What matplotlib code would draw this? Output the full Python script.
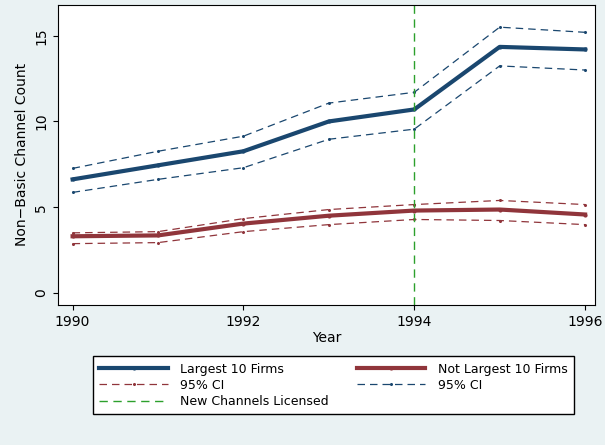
import matplotlib.pyplot as plt
import numpy as np

YEARS = np.array([1990, 1991, 1992, 1993, 1994, 1995, 1996])
LARGEST = np.array([6.62, 7.44, 8.26, 10.0, 10.7, 14.35, 14.2])
LARGEST_HI = np.array([7.26, 8.26, 9.14, 11.07, 11.7, 15.5, 15.2])
LARGEST_LO = np.array([5.86, 6.62, 7.3, 8.96, 9.55, 13.24, 13.0])
OTHER = np.array([3.3, 3.35, 4.04, 4.5, 4.8, 4.86, 4.57])
OTHER_HI = np.array([3.5, 3.57, 4.33, 4.86, 5.15, 5.39, 5.15])
OTHER_LO = np.array([2.87, 2.93, 3.57, 3.98, 4.28, 4.22, 3.98])
LICENSE_YEAR = 1994

NAVY = "#1a476f"
MAROON = "#90353b"
GREEN = "#2ca02c"


def main():
    fig = plt.figure(figsize=(6.05, 4.45), dpi=100, facecolor="#eaf2f3")
    ax = fig.add_axes([0.096, 0.315, 0.888, 0.674])

    h_big, = ax.plot(YEARS, LARGEST, color=NAVY, lw=3, marker="o", ms=2, label="Largest 10 Firms")
    h_oth, = ax.plot(YEARS, OTHER, color=MAROON, lw=3, marker="o", ms=2, label="Not Largest 10 Firms")
    h_rci, = ax.plot(YEARS, OTHER_HI, color=MAROON, lw=0.9, ls=(0, (6, 4)), marker="o", ms=1.2, label="95% CI")
    h_bci, = ax.plot(YEARS, LARGEST_HI, color=NAVY, lw=0.9, ls=(0, (6, 4)), marker="o", ms=1.2, label="95% CI")
    ax.plot(YEARS, OTHER_LO, color=MAROON, lw=0.9, ls=(0, (6, 4)), marker="o", ms=1.2)
    ax.plot(YEARS, LARGEST_LO, color=NAVY, lw=0.9, ls=(0, (6, 4)), marker="o", ms=1.2)
    h_new = ax.axvline(LICENSE_YEAR, color=GREEN, lw=1, ls=(0, (6, 4)), label="New Channels Licensed")

    ax.set_xlim(1989.83, 1996.12)
    ax.set_ylim(-0.7, 16.8)
    ax.set_xticks([1990, 1992, 1994, 1996])
    ax.set_yticks([0, 5, 10, 15])
    ax.set_yticklabels(["0", "5", "10", "15"], rotation=90, va="center")
    ax.set_xlabel("Year", fontsize=10, labelpad=2)
    ax.set_ylabel("Non\u2212Basic Channel Count", fontsize=10)
    ax.tick_params(labelsize=10)

    handles = [h_big, h_rci, h_new, h_oth, h_bci]
    labels = [h.get_label() for h in handles]
    leg = fig.legend(handles, labels, ncol=2, loc="center", bbox_to_anchor=(0.551, 0.134),
                     fontsize=9, frameon=True, fancybox=False, edgecolor="black",
                     handlelength=5.5, columnspacing=2.2, borderpad=0.5, labelspacing=0.25,
                     handletextpad=1.0)
    leg.get_frame().set_facecolor("white")
    leg.get_frame().set_alpha(1)

    fig.savefig("out.png", dpi=100, facecolor=fig.get_facecolor())


if __name__ == "__main__":
    main()
